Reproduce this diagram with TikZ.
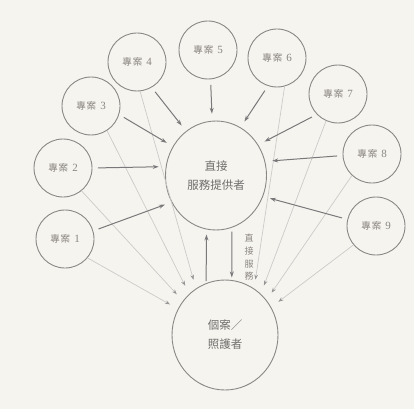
\documentclass[tikz,border=0pt]{standalone}
\usepackage{fontspec}
\setmainfont{Liberation Serif}
\newfontfamily\cjk{Noto Sans CJK TC}
\usetikzlibrary{arrows.meta,shapes.geometric}
\definecolor{bgc}{RGB}{246,244,239}
\definecolor{circc}{RGB}{138,136,134}
\definecolor{darkarr}{RGB}{122,120,122}
\definecolor{lightln}{RGB}{205,203,201}
\definecolor{lighthead}{RGB}{150,148,148}
\definecolor{txtc}{RGB}{138,134,130}
\definecolor{txtd}{RGB}{112,110,108}
\newcommand{\projlab}[1]{{\cjk 專\kern1pt 案}\kern4pt{\fontsize{11}{11}\selectfont #1}}
\begin{document}
\begin{tikzpicture}[x=1pt,y=-1pt,
 proj/.style={circle,draw=circc,line width=0.9pt,minimum size=58pt,inner sep=0pt,text=txtc,font=\fontsize{9.5}{10}\selectfont},
 big/.style={ellipse,draw=circc,line width=0.9pt,inner sep=0pt,align=center,text=txtd,font=\cjk\fontsize{11.5}{19}\selectfont},
 darr/.style={draw=darkarr,line width=1pt,-{Stealth[length=6pt,width=4pt]},shorten <=5.5pt,shorten >=7pt},
 larr/.style={draw=lightln,line width=0.7pt,-{Stealth[length=5pt,width=3.6pt,color=lighthead]},shorten >=9pt},
 vlab/.style={align=center,text=txtc,font=\cjk\fontsize{9}{12.7}\selectfont,inner sep=0pt}
]
\fill[bgc] (0,0) rectangle (414,409);
\useasboundingbox (0,0) rectangle (414,409);

\node[big,minimum width=101pt,minimum height=109pt] (c) at (216,175.5) {直接\\服務提供者};
\node[big,minimum width=106pt,minimum height=110pt] (b) at (225,335) {個案／\\照護者};

\node[proj] (p1) at (65,239) {\projlab{1}};
\node[proj] (p2) at (63,168) {\projlab{2}};
\node[proj] (p3) at (91,106) {\projlab{3}};
\node[proj] (p4) at (137,62) {\projlab{4}};
\node[proj] (p5) at (208,50) {\projlab{5}};
\node[proj] (p6) at (277,58) {\projlab{6}};
\node[proj] (p7) at (338,94) {\projlab{7}};
\node[proj] (p8) at (372,154) {\projlab{8}};
\node[proj] (p9) at (376,226) {\projlab{9}};

\node[vlab] (vl) at (249,257.5) {直\\接\\服\\務};

% light lines to client
\draw[larr] (p1.320) -- (b.151);
\draw[larr] (p2.309) -- (b.141);
\draw[larr] (p3.303) -- (b.131);
\draw[larr] (p4.276) -- (b.122);
\draw[larr] (p6.285) -- (b.58);
\draw[larr] (p7.246) -- (b.49);
\draw[larr] (p8.227) -- (b.40);
\draw[larr] (p9.220) -- (b.31);

% dark arrows to provider
\draw[darr] (p1.16) -- (c.211);
\draw[darr] (p2.0) -- (c.170);
\draw[darr] (p3.343) -- (c.146);
\draw[darr] (p4.300) -- (c.124);
\draw[darr] (p5.275) -- (c.94);
\draw[darr] (p6.252) -- (c.63);
\draw[darr] (p7.224) -- (c.36);
\draw[darr] (p8.183) -- (c.16);
\draw[darr] (p9.167) -- (c.336);

% provider <-> client
\draw[darr,shorten <=2pt,shorten >=5pt] (b.110) -- (c.260);
\draw[darr,shorten <=4pt,shorten >=2.5pt] (c.287) -- (b.83);
\end{tikzpicture}
\end{document}
